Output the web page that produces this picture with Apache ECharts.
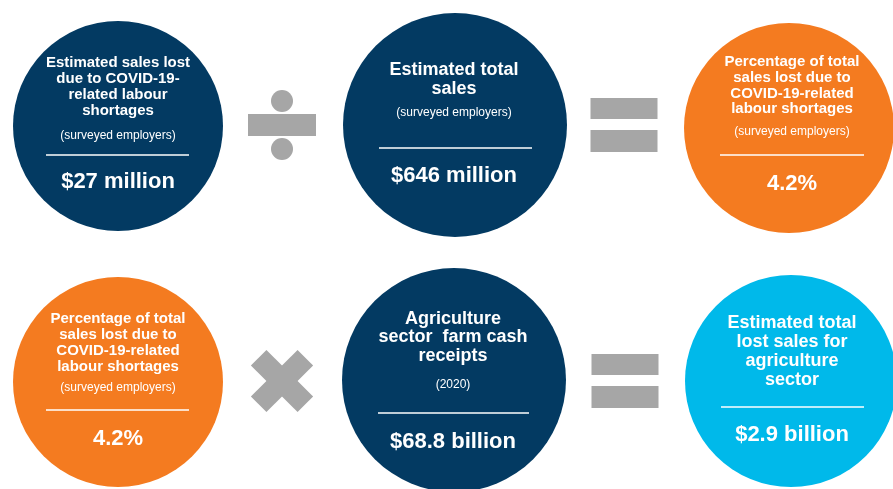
<!DOCTYPE html>
<html>
  <head>
    <meta charset="utf-8">
    <title>Lost sales due to COVID-19-related labour shortages</title>
    <script src="https://cdn.jsdelivr.net/npm/echarts@6/dist/echarts.min.js"></script>
    <style>
      html, body { margin: 0; padding: 0; background: #fff; }
      #main { width: 893px; height: 489px; }
    </style>
  </head>
  <body>
    <div id="main"></div>
    <script>
      // content of each bubble, in reading order
      const titles = [
        ['Estimated sales lost', 'due to COVID-19-', 'related labour', 'shortages'],
        ['Estimated total', 'sales'],
        ['Percentage of total', 'sales lost due to', 'COVID-19-related', 'labour shortages'],
        ['Percentage of total', 'sales lost due to', 'COVID-19-related', 'labour shortages'],
        ['Agriculture', 'sector  farm cash', 'receipts'],
        ['Estimated total', 'lost sales for', 'agriculture', 'sector']
      ];
      const notes = ['(surveyed employers)', '(surveyed employers)', '(surveyed employers)',
                     '(surveyed employers)', '(2020)', ''];
      const amounts = ['$27 million', '$646 million', '4.2%', '4.2%', '$68.8 billion', '$2.9 billion'];
      const operators = ['divide', 'equals', 'times', 'equals'];

      // layout (pixels) – kept apart from the content
      const NAVY = '#033a62', ORANGE = '#f47b20', CYAN = '#00b9ea', GREY = '#a6a6a6';
      const FONT = '"Liberation Sans", Arial, sans-serif';
      const bubbles = [
        {cx: 118, cy: 126, r: 105, fill: NAVY,   tx: 118, top: 63,  fs: 15, lh: 16,   noteY: 136, ruleY: 155, rx: [46, 189],  valY: 182},
        {cx: 455, cy: 125, r: 112, fill: NAVY,   tx: 454, top: 70,  fs: 18, lh: 19,   noteY: 113, ruleY: 148, rx: [379, 532], valY: 176},
        {cx: 789, cy: 128, r: 105, fill: ORANGE, tx: 792, top: 62,  fs: 15, lh: 15.7, noteY: 132, ruleY: 155, rx: [720, 864], valY: 184},
        {cx: 118, cy: 382, r: 105, fill: ORANGE, tx: 118, top: 319, fs: 15, lh: 16,   noteY: 388, ruleY: 410, rx: [46, 189],  valY: 439},
        {cx: 454, cy: 380, r: 112, fill: NAVY,   tx: 453, top: 319, fs: 18, lh: 18.3, noteY: 385, ruleY: 413, rx: [378, 529], valY: 442},
        {cx: 791, cy: 381, r: 106, fill: CYAN,   tx: 792, top: 323, fs: 18, lh: 19,   noteY: 0,   ruleY: 407, rx: [721, 864], valY: 435}
      ];
      const opPos = [[282, 125], [624, 125], [282, 381], [625, 381]];

      function txt(x, y, text, size, weight) {
        return {
          type: 'text', x: x, y: y, z: 10,
          style: {
            text: text, fill: '#fff', fontSize: size, fontWeight: weight,
            fontFamily: FONT, align: 'center', verticalAlign: 'middle'
          }
        };
      }

      const elements = [];
      bubbles.forEach(function (b, i) {
        elements.push({type: 'circle', shape: {cx: b.cx, cy: b.cy, r: b.r}, style: {fill: b.fill}});
        titles[i].forEach(function (line, k) {
          elements.push(txt(b.tx, b.top + k * b.lh, line, b.fs, 'bold'));
        });
        if (notes[i]) elements.push(txt(b.tx, b.noteY, notes[i], 12, 'normal'));
        elements.push({
          type: 'line', z: 10,
          shape: {x1: b.rx[0], y1: b.ruleY, x2: b.rx[1], y2: b.ruleY},
          style: {stroke: '#fff', lineWidth: 1.5}
        });
        elements.push(txt(b.tx, b.valY, amounts[i], 22, 'bold'));
      });

      operators.forEach(function (op, i) {
        const x = opPos[i][0], y = opPos[i][1];
        if (op === 'divide') {
          elements.push({type: 'rect', shape: {x: x - 34, y: y - 11, width: 68, height: 22}, style: {fill: GREY}});
          elements.push({type: 'circle', shape: {cx: x, cy: y - 24, r: 11}, style: {fill: GREY}});
          elements.push({type: 'circle', shape: {cx: x, cy: y + 24, r: 11}, style: {fill: GREY}});
        } else if (op === 'equals') {
          elements.push({type: 'rect', shape: {x: x - 33.5, y: y - 27, width: 67, height: 21}, style: {fill: GREY}});
          elements.push({type: 'rect', shape: {x: x - 33.5, y: y + 5, width: 67, height: 22}, style: {fill: GREY}});
        } else {
          [Math.PI / 4, -Math.PI / 4].forEach(function (rot) {
            elements.push({
              type: 'rect', x: x, y: y, rotation: rot,
              shape: {x: -33, y: -11, width: 66, height: 22},
              style: {fill: GREY}
            });
          });
        }
      });

      const chart = echarts.init(document.getElementById('main'), null, {renderer: 'canvas'});
      chart.setOption({
        animation: false,
        backgroundColor: '#fff',
        graphic: {elements: elements}
      });
    </script>
  </body>
</html>
